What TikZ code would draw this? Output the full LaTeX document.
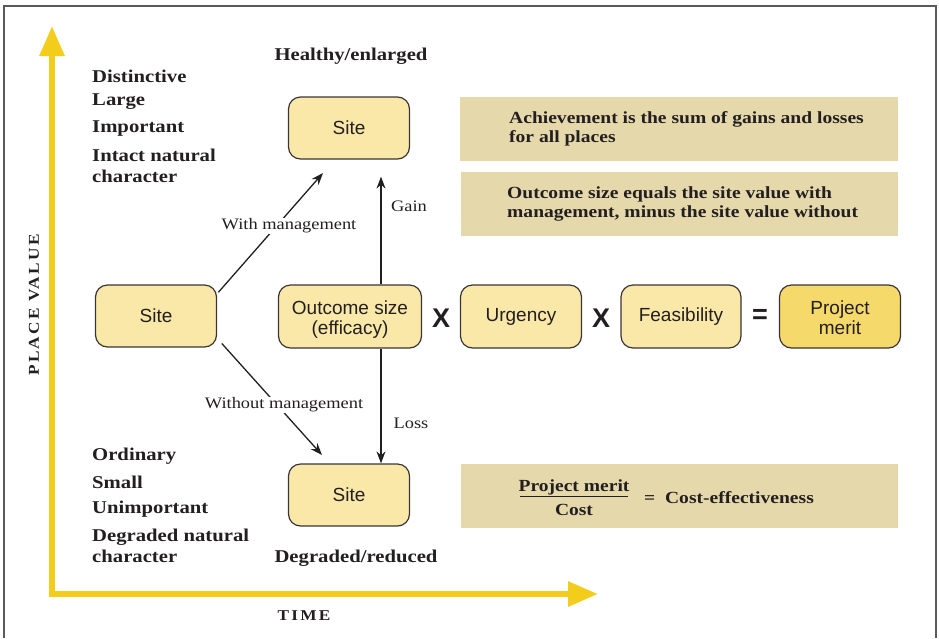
\documentclass[tikz,border=0pt]{standalone}
\usepackage{fontspec}
\setmainfont{Liberation Serif}[FakeStretch=1.15]
\setsansfont{Liberation Sans}
\usetikzlibrary{arrows.meta}
\definecolor{axisyellow}{HTML}{F2CD1C}
\definecolor{sitefill}{HTML}{FAE8A9}
\definecolor{meritfill}{HTML}{F5D96A}
\definecolor{beige}{HTML}{E5D9AB}
\definecolor{framegray}{HTML}{5A5A5A}
\definecolor{ink}{HTML}{231F20}
\newcommand{\twolines}[2]{\raisebox{-4pt}[\height][\depth]{\begin{tabular}{@{}c@{}}#1\\#2\end{tabular}}}
\tikzset{
  sitebox/.style={draw=ink!90, line width=1.2pt, rounded corners=12pt, fill=sitefill,
    minimum width=121pt, minimum height=62pt, inner sep=0pt, align=center,
    text=ink, font=\sffamily\fontsize{19}{20}\selectfont},
  beigebox/.style={fill=beige, inner sep=0pt, minimum height=64pt},
  boldlabel/.style={text=ink, inner sep=0pt, align=left, font=\bfseries\fontsize{18}{21}\selectfont},
  boxtext/.style={text=ink, inner sep=0pt, align=left, anchor=west, font=\bfseries\fontsize{17}{19}\selectfont},
  edgelabel/.style={text=ink, inner sep=1pt, font=\fontsize{16}{18}\selectfont},
  conn/.style={draw=ink, line width=1.3pt, -{Stealth[length=12pt,width=9pt]}},
  opsign/.style={text=ink, inner sep=0pt, font=\sffamily\bfseries\fontsize{27}{28}\selectfont},
  axislabel/.style={text=ink, inner sep=0pt, font=\bfseries\fontsize{15}{16}\selectfont\addfontfeatures{LetterSpace=15}}
}
\begin{document}
\begin{tikzpicture}[x=1pt,y=-1pt]
\useasboundingbox (0,0) rectangle (939,638);
% frame
\draw[framegray, line width=1.2pt] (4,638) -- (4,6) -- (936,6) -- (936,638);
% axes
\coordinate (ytip) at (52,26);
\coordinate (origin) at (52,594);
\coordinate (xtip) at (598,594);
\draw[axisyellow, line width=6pt, line join=miter,
  {Triangle[length=30pt,width=24pt]}-{Triangle[length=30pt,width=24pt]}]
  (ytip) -- (origin) -- (xtip);
\node[axislabel, rotate=90] (pv) at (34,305) {PLACE VALUE};
\node[axislabel] (time) at (304,616) {TIME};
% left labels
\node[boldlabel, anchor=west] (l1) at (92,76) {Distinctive};
\node[boldlabel, anchor=west] (l2) at (92,102) {Large};
\node[boldlabel, anchor=west] (l3) at (92,129) {Important};
\node[boldlabel, anchor=west] (l4) at (92,165.5) {Intact natural\\character};
\node[boldlabel, anchor=west] (l5) at (92,456) {Ordinary};
\node[boldlabel, anchor=west] (l6) at (92,482) {Small};
\node[boldlabel, anchor=west] (l7) at (92,509) {Unimportant};
\node[boldlabel, anchor=west] (l8) at (92,545.5) {Degraded natural\\character};
\node[boldlabel] (healthy) at (351,56) {Healthy/enlarged};
\node[boldlabel] (degraded) at (356,558) {Degraded/reduced};
% boxes
\node[sitebox] (siteT) at (349,128) {Site};
\node[sitebox] (siteL) at (156,316) {Site};
\node[sitebox] (siteB) at (349,495) {Site};
\node[sitebox, minimum width=143pt, minimum height=63pt] (outcome) at (350,316.5) {\twolines{Outcome size}{(efficacy)}};
\node[sitebox, minimum height=63pt] (urgency) at (521,316.5) {Urgency};
\node[sitebox, minimum width=120pt, minimum height=63pt] (feas) at (681,316.5) {Feasibility};
\node[sitebox, fill=meritfill, minimum height=63pt] (merit) at (840,316.5) {\twolines{Project}{merit}};
\node[opsign] (x1) at (441,318) {X};
\node[opsign] (x2) at (601,318) {X};
\node[opsign] (eq) at (760,316) {=};
% connectors
\coordinate (wtip) at (323,173);
\coordinate (wotip) at (322,455);
\draw[conn, shorten <=2pt] (siteL.20) -- (wtip);
\draw[conn, shorten <=7pt] (siteL.-20) -- (wotip);
\draw[conn, shorten >=17pt] ([xshift=31pt]outcome.north) -- ([xshift=31pt]outcome.north |- siteT.south);
\draw[conn] ([xshift=31pt]outcome.south) -- ([xshift=31pt]outcome.south |- siteB.north);
\node[edgelabel, fill=white] (lw) at (289,226) {With management};
\node[edgelabel, fill=white] (lwo) at (284,405) {Without management};
\node[edgelabel] (gain) at (409,206) {Gain};
\node[edgelabel] (loss) at (411,423) {Loss};
% beige boxes
\node[beigebox, minimum width=438pt] (b1) at (679,129) {};
\node[beigebox, minimum width=437pt] (b2) at (679.5,204) {};
\node[beigebox, minimum width=437pt] (b3) at (679.5,496) {};
\node[boxtext] (t1) at (509,128.5) {Achievement is the sum of gains and losses\\for all places};
\node[boxtext] (t2) at (507,204) {Outcome size equals the site value with\\management, minus the site value without};
\node[boxtext, anchor=center] (num) at (574,487) {Project merit};
\node[boxtext, anchor=center] (den) at (574,510) {Cost};
\draw[ink, line width=1pt] (520,496) -- (628,496);
\node[boxtext] (ce) at (644,498) {=\ \ Cost-effectiveness};
\end{tikzpicture}
\end{document}
